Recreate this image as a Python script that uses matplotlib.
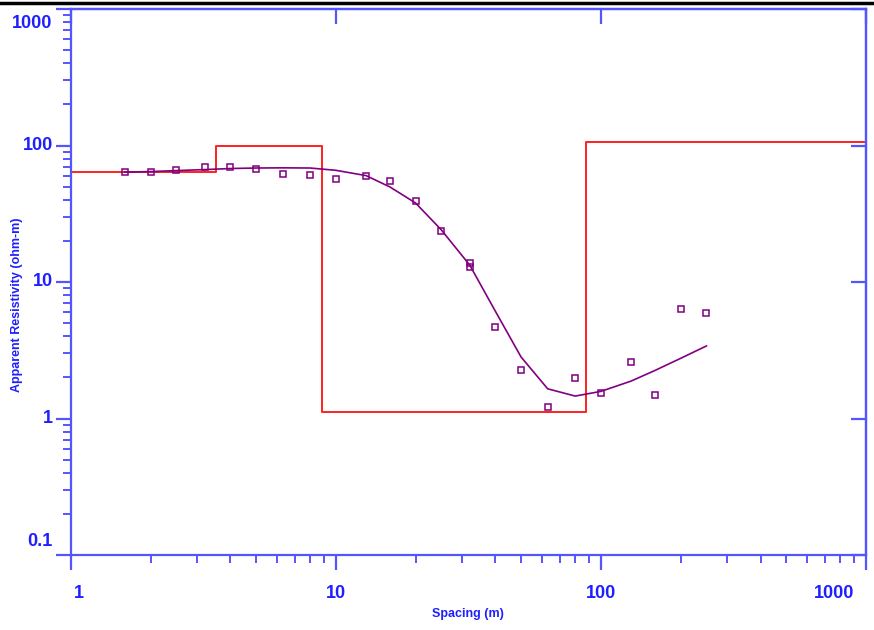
import matplotlib
matplotlib.use('Agg')
import matplotlib.pyplot as plt
import matplotlib.transforms as mtransforms
from matplotlib.lines import Line2D
import numpy as np

# field data: spacing (m) and apparent resistivity (ohm-m)
spacing = [1.6, 2, 2.5, 3.2, 4, 5, 6.3, 8, 10, 13, 16, 20, 25, 32, 32,
           40, 50, 63, 80, 100, 130, 160, 200, 250]
rho_obs = [63.7, 64.4, 66.3, 70.1, 70.1, 66.9, 61.9, 60.5, 57.2, 60.2, 54.6,
           39.4, 23.7, 13.7, 12.8, 4.72, 2.25, 1.21, 1.98, 1.55, 2.58, 1.48,
           6.3, 5.89]

# computed curve of the model
fit_x = [1.6, 2, 2.5, 3.2, 4, 5, 6.3, 8, 10, 13, 16, 20, 25, 32,
         40, 50, 63, 80, 100, 130, 160, 200, 250]
fit_rho = [63.8, 64.4, 65.5, 66.6, 67.8, 68.4, 68.6, 68.4, 65.8, 60.2, 49.7,
           37.9, 24.1, 13.3, 6.1, 2.82, 1.65, 1.46, 1.58, 1.88, 2.25, 2.76, 3.40]

# layered model (step)
layer_bounds = [1, 3.53, 8.9, 87.8, 1000]
layer_rho = [64.0, 100.0, 1.11, 106.0]

x_ticks = [1, 10, 100, 1000]
x_labels = ['1', '10', '100', '1000']
y_ticks = [0.1, 1, 10, 100, 1000]
y_labels = ['0.1', '1', '10', '100', '1000']

blue = '#5555ff'
lblue = '#1f1fff'
purple = '#800080'
fnt = ['Liberation Sans Narrow', 'Liberation Sans', 'DejaVu Sans']

fig = plt.figure(figsize=(8.74, 6.30), dpi=100)
ax = fig.add_axes([70.7 / 874, 1 - 555 / 630, (866 - 70.7) / 874, (555 - 9) / 630])
ax.set_xscale('log')
ax.set_yscale('log')
ax.set_xlim(1, 1000)
ax.set_ylim(0.1, 1000)

# model
sx = []
sy = []
for i in range(len(layer_rho)):
    sx += [layer_bounds[i], layer_bounds[i + 1]]
    sy += [layer_rho[i], layer_rho[i]]
ax.plot(sx, sy, color='#ff2020', lw=1.4, zorder=2)

ax.plot(fit_x, fit_rho, color=purple, lw=1.2, zorder=3)
ax.plot(spacing, rho_obs, ls='none', marker='s', ms=5, mfc='none',
        mec=purple, mew=1.1, zorder=4)

for s in ax.spines.values():
    s.set_color(blue)
    s.set_linewidth(1.6)

ax.tick_params(which='major', direction='out', length=11, width=1.6,
               color=blue, labelbottom=False, labelleft=False)
ax.tick_params(which='minor', direction='out', length=6, width=1.4,
               color=blue, labelbottom=False, labelleft=False)
ax.set_xticks(x_ticks)
ax.set_yticks(y_ticks)

# inward major ticks on top and right
top = ax.secondary_xaxis('top')
top.set_xticks(x_ticks)
top.set_xticklabels([])
top.xaxis.set_minor_locator(matplotlib.ticker.NullLocator())
top.tick_params(direction='in', length=11, width=1.6, color=blue)
top.spines['top'].set_color(blue)
top.spines['top'].set_linewidth(1.6)
right = ax.secondary_yaxis('right')
right.set_yticks(y_ticks)
right.set_yticklabels([])
right.yaxis.set_minor_locator(matplotlib.ticker.NullLocator())
right.tick_params(direction='in', length=11, width=1.6, color=blue)
right.spines['right'].set_color(blue)
right.spines['right'].set_linewidth(1.6)

# tick labels
xtr = mtransforms.blended_transform_factory(ax.transData, ax.transAxes)
for i, (v, t) in enumerate(zip(x_ticks, x_labels)):
    ha = 'center'
    dx = 0
    if i == 0:
        ha, dx = 'left', 3
    elif i == len(x_ticks) - 1:
        ha, dx = 'right', -12
    ax.annotate(t, (v, 0), xycoords=xtr, xytext=(dx, -38),
                textcoords='offset pixels', ha=ha, va='center',
                color=lblue, fontsize=13, fontweight='bold', family=fnt)
ytr = mtransforms.blended_transform_factory(ax.transAxes, ax.transData)
for i, (v, t) in enumerate(zip(y_ticks, y_labels)):
    dy = 0
    if i == 0:
        dy = 14
    elif i == len(y_ticks) - 1:
        dy = -14
    ax.annotate(t, (0, v), xycoords=ytr, xytext=(-18, dy),
                textcoords='offset pixels', ha='right', va='center',
                color=lblue, fontsize=13, fontweight='bold', family=fnt)

fig.text(468 / 874, 1 - 614 / 630, 'Spacing (m)', ha='center', va='center',
         color=lblue, fontsize=9, fontweight='bold', family=fnt)
fig.text(17 / 874, 1 - 305 / 630, 'Apparent Resistivity (ohm-m)', ha='center',
         va='center', rotation=90, color=lblue, fontsize=9, fontweight='bold',
         family=fnt)

fig.add_artist(Line2D([0, 1], [1 - 3 / 630, 1 - 3 / 630], color='black',
                      lw=2.5, transform=fig.transFigure))

fig.savefig('out.png', dpi=100)
